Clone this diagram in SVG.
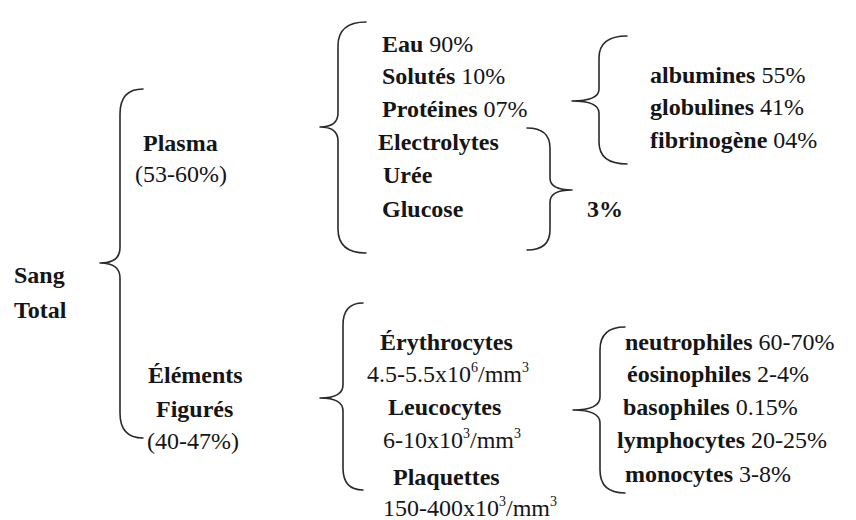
<svg xmlns="http://www.w3.org/2000/svg" width="856" height="520" viewBox="0 0 856 520">
<style>
text{font-family:"Liberation Serif","Times New Roman",Times,Tinos,"Noto Serif","DejaVu Serif",serif;font-size:24px;fill:#151515}
.b{font-weight:bold}
.sup{font-size:14px}
.br{fill:none;stroke:#2a2a2a;stroke-width:1.6;stroke-linecap:round;stroke-linejoin:round}
</style>
<rect width="856" height="520" fill="#ffffff"/>
<g id="connectors">
<path class="br" d="M143,89 Q120,89 120,114 L120,248 Q120,263 100,263 Q120,263 120,278 L120,413 Q120,438 143,438"/>
<path class="br" d="M366,22 Q338,22 338,46 L338,113 Q338,127 320,127 Q338,127 338,141 L338,229 Q338,253 366,253"/>
<path class="br" d="M627,36 Q599,36 599,58 L599,89 Q599,101 572,101 Q599,101 599,113 L599,142 Q599,164 627,164"/>
<path class="br" d="M527,128 Q550,128 550,148 L550,178 Q550,190 572,190 Q550,190 550,202 L550,230 Q550,250 527,250"/>
<path class="br" d="M363,303 Q343,303 343,325 L343,385 Q343,398 320,398 Q343,398 343,411 L343,468 Q343,490 363,490"/>
<path class="br" d="M625,327 Q600,327 600,350 L600,397 Q600,410 573,410 Q600,410 600,423 L600,470 Q600,493 625,493"/>
</g>
<g id="sang"><text class="b" x="14" y="283" font-family="Liberation Serif, serif">Sang</text><text class="b" x="14" y="318">Total</text></g>
<g id="plasma"><text class="b" x="143" y="151">Plasma</text><text x="135" y="182">(53-60%)</text></g>
<g id="elements"><text class="b" x="148" y="383">Éléments</text><text class="b" x="156" y="417">Figurés</text><text x="147" y="449">(40-47%)</text></g>
<g id="plasma-items">
<text x="382" y="52"><tspan class="b">Eau</tspan> 90%</text>
<text x="382" y="84"><tspan class="b">Solutés</tspan> 10%</text>
<text x="382" y="117"><tspan class="b">Protéines</tspan> 07%</text>
<text class="b" x="378" y="150">Electrolytes</text>
<text class="b" x="383" y="183">Urée</text>
<text class="b" x="382" y="217">Glucose</text>
</g>
<g id="three-percent"><text class="b" x="587" y="217">3%</text></g>
<g id="proteins">
<text x="650" y="83"><tspan class="b">albumines</tspan> 55%</text>
<text x="650" y="115"><tspan class="b">globulines</tspan> 41%</text>
<text x="650" y="148"><tspan class="b">fibrinogène</tspan> 04%</text>
</g>
<g id="cells">
<text class="b" x="380" y="350">Érythrocytes</text>
<text x="367" y="382">4.5-5.5x10<tspan class="sup" dy="-10">6</tspan><tspan dy="10">/mm</tspan><tspan class="sup" dy="-10">3</tspan></text>
<text class="b" x="388" y="415">Leucocytes</text>
<text x="383" y="448">6-10x10<tspan class="sup" dy="-10">3</tspan><tspan dy="10">/mm</tspan><tspan class="sup" dy="-10">3</tspan></text>
<text class="b" x="393" y="485">Plaquettes</text>
<text x="383" y="516">150-400x10<tspan class="sup" dy="-10">3</tspan><tspan dy="10">/mm</tspan><tspan class="sup" dy="-10">3</tspan></text>
</g>
<g id="leucocytes">
<text x="625" y="350"><tspan class="b">neutrophiles</tspan> 60-70%</text>
<text x="627" y="382"><tspan class="b">éosinophiles</tspan> 2-4%</text>
<text x="623" y="415"><tspan class="b">basophiles</tspan> 0.15%</text>
<text x="617" y="448"><tspan class="b">lymphocytes</tspan> 20-25%</text>
<text x="625" y="482"><tspan class="b">monocytes</tspan> 3-8%</text>
</g>
</svg>
